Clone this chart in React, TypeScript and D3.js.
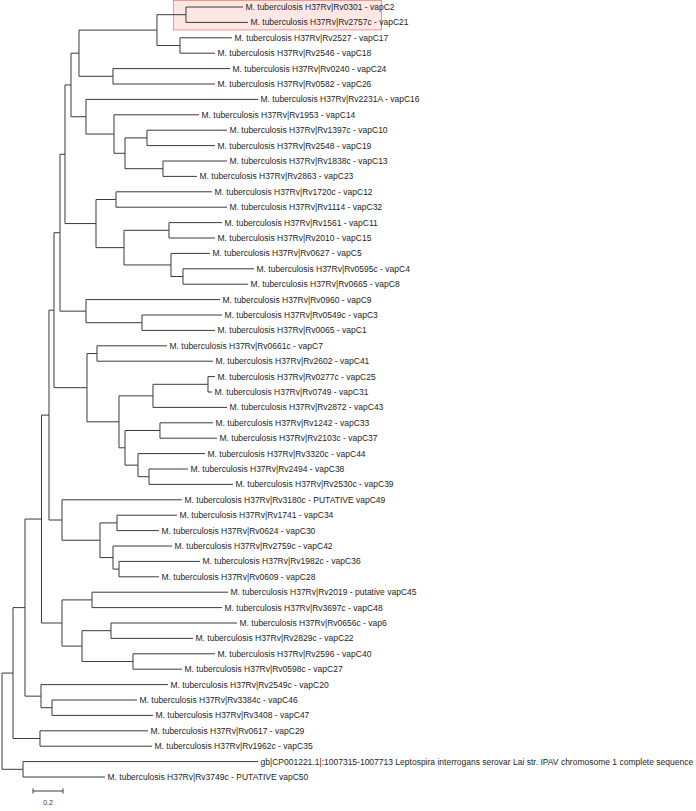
import React, { useMemo } from "react";
import * as d3 from "d3";

const leafLabels: string[] = [
  "M. tuberculosis H37Rv|Rv0301 - vapC2",
  "M. tuberculosis H37Rv|Rv2757c - vapC21",
  "M. tuberculosis H37Rv|Rv2527 - vapC17",
  "M. tuberculosis H37Rv|Rv2546 - vapC18",
  "M. tuberculosis H37Rv|Rv0240 - vapC24",
  "M. tuberculosis H37Rv|Rv0582 - vapC26",
  "M. tuberculosis H37Rv|Rv2231A - vapC16",
  "M. tuberculosis H37Rv|Rv1953 - vapC14",
  "M. tuberculosis H37Rv|Rv1397c - vapC10",
  "M. tuberculosis H37Rv|Rv2548 - vapC19",
  "M. tuberculosis H37Rv|Rv1838c - vapC13",
  "M. tuberculosis H37Rv|Rv2863 - vapC23",
  "M. tuberculosis H37Rv|Rv1720c - vapC12",
  "M. tuberculosis H37Rv|Rv1114 - vapC32",
  "M. tuberculosis H37Rv|Rv1561 - vapC11",
  "M. tuberculosis H37Rv|Rv2010 - vapC15",
  "M. tuberculosis H37Rv|Rv0627 - vapC5",
  "M. tuberculosis H37Rv|Rv0595c - vapC4",
  "M. tuberculosis H37Rv|Rv0665 - vapC8",
  "M. tuberculosis H37Rv|Rv0960 - vapC9",
  "M. tuberculosis H37Rv|Rv0549c - vapC3",
  "M. tuberculosis H37Rv|Rv0065 - vapC1",
  "M. tuberculosis H37Rv|Rv0661c - vapC7",
  "M. tuberculosis H37Rv|Rv2602 - vapC41",
  "M. tuberculosis H37Rv|Rv0277c - vapC25",
  "M. tuberculosis H37Rv|Rv0749 - vapC31",
  "M. tuberculosis H37Rv|Rv2872 - vapC43",
  "M. tuberculosis H37Rv|Rv1242 - vapC33",
  "M. tuberculosis H37Rv|Rv2103c - vapC37",
  "M. tuberculosis H37Rv|Rv3320c - vapC44",
  "M. tuberculosis H37Rv|Rv2494 - vapC38",
  "M. tuberculosis H37Rv|Rv2530c - vapC39",
  "M. tuberculosis H37Rv|Rv3180c - PUTATIVE vapC49",
  "M. tuberculosis H37Rv|Rv1741 - vapC34",
  "M. tuberculosis H37Rv|Rv0624 - vapC30",
  "M. tuberculosis H37Rv|Rv2759c - vapC42",
  "M. tuberculosis H37Rv|Rv1982c - vapC36",
  "M. tuberculosis H37Rv|Rv0609 - vapC28",
  "M. tuberculosis H37Rv|Rv2019 - putative vapC45",
  "M. tuberculosis H37Rv|Rv3697c - vapC48",
  "M. tuberculosis H37Rv|Rv0656c - vap6",
  "M. tuberculosis H37Rv|Rv2829c - vapC22",
  "M. tuberculosis H37Rv|Rv2596 - vapC40",
  "M. tuberculosis H37Rv|Rv0598c - vapC27",
  "M. tuberculosis H37Rv|Rv2549c - vapC20",
  "M. tuberculosis H37Rv|Rv3384c - vapC46",
  "M. tuberculosis H37Rv|Rv3408 - vapC47",
  "M. tuberculosis H37Rv|Rv0617 - vapC29",
  "M. tuberculosis H37Rv|Rv1962c - vapC35",
  "gb|CP001221.1|:1007315-1007713 Leptospira interrogans serovar Lai str. IPAV chromosome 1 complete sequence",
  "M. tuberculosis H37Rv|Rv3749c - PUTATIVE vapC50",
];

// Tree topology with branch lengths (Newick), leaves L0..L50 refer to leafLabels
const cladeA = "((L0:0.38,L1:0.4133):0.1933,(L2:0.3467,L3:0.2333):0.1533)";
const cladeB = `(${cladeA}:0.52,(L4:0.78,L5:0.68):0.2267)`;
const cladeF = "((L8:0.5333,L9:0.4533):0.1467,(L10:0.4267,L11:0.2267):0.2533)";
const cladeD = `(L6:1.1467,(L7:0.5667,${cladeF}:0.0733):0.1867)`;
const cladeC = `(${cladeB}:0.0533,${cladeD}:0.1)`;
const cladeL = "((L14:0.3533,L15:0.3067):0.3,(L16:0.26,(L17:0.4733,L18:0.4333):0.08):0.3133)";
const cladeJ = `((L12:0.64,L13:0.74):0.1333,${cladeL}:0.1867)`;
const cladeI = `(${cladeC}:0.04,${cladeJ}:0.2067)`;
const cladeQ = "(L19:0.8933,(L20:0.5333,L21:0.4867):0.3733)";
const cladeP = `(${cladeI}:0.0333,${cladeQ}:0.1733)`;
const cladeX = "(((L24:0.0467,L25:0.0267):0.3667,L26:0.4933))";
const cladeY = "((L27:0.3533,L28:0.38):0.2333,(L29:0.4467,(L30:0.26,L31:0.56):0.0733):0.0867)";
const cladeW = `(${cladeX.slice(1, -1)}:0.2267,${cladeY}:0.04)`;
const cladeU = `((L22:0.4667,L23:0.7733):0.0667,${cladeW}:0.2133)`;
const cladeS = `(${cladeP}:0.04,${cladeU}:0.22)`;
const cladeAD = "(L32:0.8,((L33:0.4,L34:0.28):0.1133,(L35:0.3933,(L36:0.54,L37:0.2667):0.04):0.0867):0.2533)";
const cladeT = `(${cladeS}:0.0333,${cladeAD}:0.0867)`;
const cladeAJ = "((L38:0.9067,L39:0.8667):0.2,((L40:0.84,L41:0.5467):0.1933,(L42:0.5467,L43:0.3267):0.34):0.1333)";
const cladeAE = `(${cladeT}:0.05,${cladeAJ}:0.1367)`;
const cladeAP = "(L44:0.8467,(L45:0.5667,L46:0.6733):0.0733)";
const cladeAO = `(${cladeAE}:0.11,${cladeAP}:0.1067)`;
const cladeAR = `(${cladeAO}:0.08,(L47:0.72,L48:0.7467):0.18)`;
const newick = `(${cladeAR}:0.0733,(L49:1.5667,L50:0.5467):0.14);`;

const highlightedLeaves = [0, 1];
const scaleBarValue = 0.2;

function parseNewick(s: string) {
  const tokens = s.split(/\s*(;|\(|\)|,|:)\s*/);
  const stack: any[] = [];
  let tree: any = {};
  let subtree: any;
  for (let i = 0; i < tokens.length; i++) {
    const t = tokens[i];
    switch (t) {
      case "(":
        subtree = {};
        tree.children = [subtree];
        stack.push(tree);
        tree = subtree;
        break;
      case ",":
        subtree = {};
        stack[stack.length - 1].children.push(subtree);
        tree = subtree;
        break;
      case ")":
        tree = stack.pop();
        break;
      case ":":
      case ";":
      case "":
        break;
      default: {
        const prev = tokens[i - 1];
        if (prev === ":") tree.length = parseFloat(t);
        else tree.name = t;
      }
    }
  }
  return tree;
}

export default function App() {
  const W = 696;
  const H = 811;

  const { nodes, links, leaves, x, y } = useMemo(() => {
    const root = d3.hierarchy<any>(parseNewick(newick));
    const x = d3.scaleLinear().domain([0, 1]).range([2, 152]);
    const y = d3.scaleLinear().domain([0, leafLabels.length - 1]).range([7, 777]);
    (root as any).depthLen = 0;
    root.eachBefore((n: any) => {
      if (n.parent) n.depthLen = n.parent.depthLen + (n.data.length || 0);
    });
    root.eachAfter((n: any) => {
      n.px = x(n.depthLen);
      if (!n.children) {
        n.idx = parseInt(String(n.data.name).slice(1), 10);
        n.py = y(n.idx);
      } else {
        n.py = (n.children[0].py + n.children[n.children.length - 1].py) / 2;
      }
    });
    return {
      nodes: root.descendants().filter((n: any) => n.children),
      links: root.descendants().filter((n: any) => n.parent),
      leaves: root.leaves(),
      x,
      y,
    };
  }, []);

  const hl = highlightedLeaves.map((i) => y(i));
  const stroke = "#3a3a3a";
  const barX0 = 33;
  const barY = 791;

  return (
    <svg
      width={W}
      height={H}
      style={{ position: "absolute", left: 0, top: 0, background: "#fff" }}
      fontFamily="'Liberation Sans', Arial, Helvetica, sans-serif"
    >
      <rect x={173.5} y={0.5} width={208} height={hl[1] - hl[0] + 14} fill="#fde7e5" stroke="#f2968c" strokeWidth={1} />
      <g fill="none" stroke={stroke} strokeWidth={1}>
        {nodes.map((n: any, i: number) => (
          <line
            key={"v" + i}
            x1={n.px}
            x2={n.px}
            y1={n.children[0].py}
            y2={n.children[n.children.length - 1].py}
          />
        ))}
        {links.map((n: any, i: number) => (
          <line key={"h" + i} x1={n.parent.px} x2={n.px} y1={n.py} y2={n.py} />
        ))}
      </g>
      <g fontSize={8.5} fill="#1e1e1e">
        {leaves.map((n: any) => (
          <text key={n.idx} x={n.px + 2.5} y={n.py} dy="0.35em">
            {leafLabels[n.idx]}
          </text>
        ))}
      </g>
      <g stroke={stroke} strokeWidth={1}>
        <line x1={barX0} x2={barX0 + x(scaleBarValue) - x(0)} y1={barY} y2={barY} />
        <line x1={barX0} x2={barX0} y1={barY - 2.5} y2={barY + 2.5} />
        <line
          x1={barX0 + x(scaleBarValue) - x(0)}
          x2={barX0 + x(scaleBarValue) - x(0)}
          y1={barY - 2.5}
          y2={barY + 2.5}
        />
      </g>
      <text
        x={barX0 + (x(scaleBarValue) - x(0)) / 2}
        y={805}
        fontSize={7}
        textAnchor="middle"
        fill="#333"
      >
        {String(scaleBarValue)}
      </text>
    </svg>
  );
}
